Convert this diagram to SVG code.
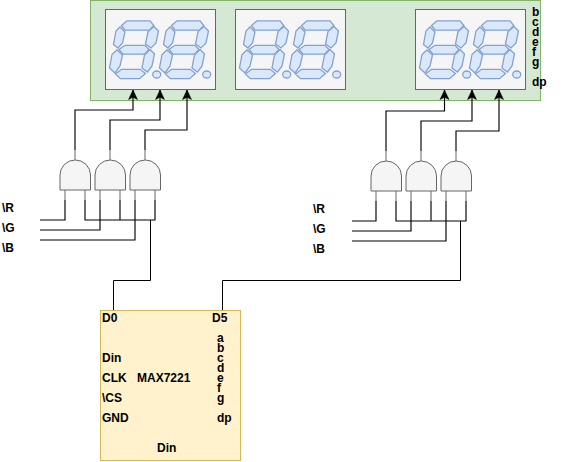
<svg xmlns="http://www.w3.org/2000/svg" width="562" height="462" viewBox="0 0 562 462">
<style>
text{font-family:"Liberation Sans",Arial,sans-serif;font-size:12px;font-weight:bold;fill:#000}
.panel{fill:#d5e8d4;stroke:#82b366}
.disp{fill:#f5f5f5;stroke:#666}
.seg{fill:#dae8fc;stroke:#84a2cf;stroke-width:1.3}
.gate{fill:#f5f5f5;stroke:#666}
.stub{fill:none;stroke:#666}
.chip{fill:#fff2cc;stroke:#d6b656}
.w{fill:none;stroke:#000;stroke-width:1.15}
.b{fill:none;stroke:#000;stroke-width:1}
.wa{marker-end:url(#arrow)}
</style>
<defs>
<marker id="arrow" markerUnits="userSpaceOnUse" markerWidth="12" markerHeight="12" refX="10" refY="6" orient="auto"><path d="M10 6L.5 10.500L2.700 6L.5 1.500Z" fill="#000" stroke="#000" stroke-width=".5"/></marker>
<g id="digit">
<polygon class="seg" points="121.500,25.500 127,20.800 150,20.800 153.800,25.500 149.500,30.200 125,30.200"/>
<polygon class="seg" points="154,26.500 158.500,31 156,43 151,48 145.500,44 148,31.500"/>
<polygon class="seg" points="150,49.500 154.500,54 152,66 147.500,72 142,68 144.500,55"/>
<polygon class="seg" points="115.500,74 121.500,69.300 140,69.300 145.500,73.500 139.500,78.700 120.500,78.700"/>
<polygon class="seg" points="117,50 122.500,55 120,66 115,73 109.500,68 112,54.500"/>
<polygon class="seg" points="120,27 125,32 122.500,43 118,48 113.500,44.500 116,31"/>
<polygon class="seg" points="119,49.500 125,45.300 145,45.300 149,49.500 144.500,54.200 123,54.200"/>
<ellipse class="seg" cx="156.700" cy="74.500" rx="4" ry="3.500"/>
</g>
<g id="and">
<path class="stub" d="M15 -10V0M5 30V40M25 30V40"/>
<path class="gate" d="M0 30V15A15.250 15 0 0 1 30.500 15V30Z"/>
</g>
</defs>
<g id="panel"><rect class="panel" x="90.500" y="0.500" width="450" height="100"/></g>
<g id="display1"><rect class="disp" x="105.500" y="9.500" width="110" height="80"/><use href="#digit"/><use href="#digit" x="50"/></g>
<g id="display2"><rect class="disp" x="235.500" y="9.500" width="110" height="80"/><use href="#digit" x="130"/><use href="#digit" x="180"/></g>
<g id="display3"><rect class="disp" x="415.500" y="9.500" width="110" height="80"/><use href="#digit" x="310"/><use href="#digit" x="360"/></g>
<g id="panel-labels">
<text x="532" y="16">b</text><text x="532" y="26">c</text><text x="532" y="36">d</text><text x="532" y="46">e</text><text x="532" y="56">f</text><text x="532" y="66">g</text><text x="532" y="86">dp</text>
</g>
<g id="and1"><use href="#and" x="60" y="160"/></g>
<g id="and2"><use href="#and" x="95" y="160"/></g>
<g id="and3"><use href="#and" x="130" y="160"/></g>
<g id="and4"><use href="#and" x="371" y="161"/></g>
<g id="and5"><use href="#and" x="406" y="161"/></g>
<g id="and6"><use href="#and" x="441" y="161"/></g>
<g id="connectors">
<path class="w wa" d="M75 150V110H133V90"/>
<path class="w wa" d="M110 150V120H160V90"/>
<path class="w wa" d="M145 150V130H187V90"/>
<path class="w" d="M40 220H65V200M85 200V220H155V200M120 200V220"/>
<path class="w" d="M40 230H100V200"/>
<path class="w" d="M40 240H135V200"/>
<path class="w wa" d="M386 151V111H444.500V90"/>
<path class="w wa" d="M421 151V121H472V90"/>
<path class="w wa" d="M456 151V131H499V90"/>
<path class="w" d="M352 221H376V201M396 201V221H466V201M431 201V221"/>
<path class="w" d="M352 231H411V201"/>
<path class="w" d="M352 241H446V201"/>
<path class="b" d="M150.500 220V280.500H113.500V310"/>
<path class="b" d="M460.500 221V280.500H222.500V310"/>
</g>
<g id="labels-left"><text x="2" y="212">\R</text><text x="2" y="232">\G</text><text x="2" y="252">\B</text></g>
<g id="labels-right"><text x="313" y="213">\R</text><text x="313" y="233">\G</text><text x="313" y="253">\B</text></g>
<g id="max7221">
<rect class="chip" x="100.500" y="310.500" width="140" height="150"/>
<text x="102" y="322">D0</text><text x="212" y="322">D5</text>
<text x="217" y="342">a</text><text x="217" y="352">b</text><text x="217" y="362">c</text><text x="217" y="372">d</text><text x="217" y="382">e</text><text x="217" y="392">f</text><text x="217" y="402">g</text><text x="217" y="422">dp</text>
<text x="102" y="362">Din</text><text x="102" y="382">CLK</text><text x="102" y="402">\CS</text><text x="102" y="422">GND</text>
<text x="137" y="382">MAX7221</text><text x="157" y="452">Din</text>
</g>
</svg>
